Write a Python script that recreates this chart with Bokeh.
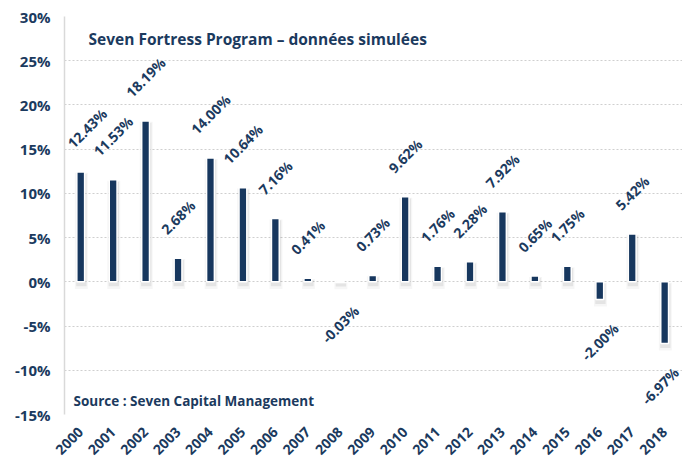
import math
from bokeh.plotting import figure
from bokeh.models import Range1d, FixedTicker, PrintfTickFormatter, Label, BoxAnnotation, ColumnDataSource
from bokeh.core.properties import value
from bokeh.embed import file_html
from bokeh.resources import INLINE

# ---------------- data ----------------
years = ["2000", "2001", "2002", "2003", "2004", "2005", "2006", "2007", "2008", "2009",
         "2010", "2011", "2012", "2013", "2014", "2015", "2016", "2017", "2018"]
returns = [12.43, 11.53, 18.19, 2.68, 14.00, 10.64, 7.16, 0.41, -0.03, 0.73,
           9.62, 1.76, 2.28, 7.92, 0.65, 1.75, -2.00, 5.42, -6.97]
y_ticks = [-15, -10, -5, 0, 5, 10, 15, 20, 25, 30]
title_text = "Seven Fortress Program \u2013 données simulées"
source_text = "Source : Seven Capital Management"

# ---------------- styling / layout ----------------
NAVY = "#17375E"
TEXT = "#1B3A5E"
FONT = "Open Sans"
W, H = 682, 462
LEFT = 64
X_START, X_END = -0.5, 18.55
FRAME_W = W - LEFT
PPU = FRAME_W / (X_END - X_START)   # pixels per category

xs = list(range(len(years)))
labels = [f"{v:.2f}%" for v in returns]

def text_len(s, size=14):
    w = 0.0
    for ch in s:
        if ch.isdigit():
            w += 0.572
        elif ch == ".":
            w += 0.28
        elif ch == "%":
            w += 0.87
        elif ch == "-":
            w += 0.32
        else:
            w += 0.55
    return w * size

yoffs, xoffs = [], []
for x, s, v in zip(xs, labels, returns):
    bbox = (text_len(s) + 13) / math.sqrt(2)
    d = 22 + bbox / 2
    yoffs.append(-d if v >= 0 else d)
    center_px = (x - X_START) * PPU
    right_over = center_px + bbox / 2 - FRAME_W + 2
    left_over = bbox / 2 - center_px + 1
    xoffs.append(-max(0.0, right_over) + max(0.0, left_over))

hi = [max(v, 0) for v in returns]
lo = [min(v, 0) for v in returns]
src = ColumnDataSource(dict(
    x=xs, top=hi, bottom=lo, lab=labels, val=returns, yoff=yoffs, xoff=xoffs,
    sx=[x + 0.02 for x in xs],
    s1t=[h - 0.2 for h in hi], s1b=[l - 0.5 for l in lo],
    s2t=[h - 0.1 for h in hi], s2b=[l - 0.8 for l in lo],
))

p = figure(width=W, height=H, output_backend="svg", toolbar_location=None,
           x_range=Range1d(X_START, X_END), y_range=Range1d(-15, 30),
           min_border_left=LEFT, min_border_right=0, min_border_top=16, min_border_bottom=40)
p.outline_line_color = None
p.background_fill_color = "white"

# shadows
p.vbar(x="sx", top="s2t", bottom="s2b", width=0.40, source=src,
       fill_color="black", fill_alpha=0.035, line_color=None)
p.vbar(x="sx", top="s1t", bottom="s1b", width=0.32, source=src,
       fill_color="black", fill_alpha=0.07, line_color=None)
# bars
p.vbar(x="x", top="top", bottom="bottom", width=0.24, source=src,
       fill_color=NAVY, line_color="white", line_width=1.5)

# data labels
p.text(x="x", y="val", text="lab", source=src, y_offset="yoff", x_offset="xoff",
       angle=math.pi / 4, text_align="center", text_baseline="middle",
       text_font=value(FONT), text_font_style="bold", text_font_size="14px",
       text_color=TEXT)

# title box covering the top gridline
p.add_layout(BoxAnnotation(left=X_START + 6 / PPU, right=X_START + 418 / PPU,
                           bottom=25.9, top=31,
                           fill_color="white", fill_alpha=1.0, line_color=None))
p.add_layout(Label(x=X_START + 24 / PPU, y=27.4, text=title_text, text_font=FONT,
                   text_font_style="bold", text_font_size="15.5px", text_color=TEXT,
                   text_baseline="alphabetic"))
p.add_layout(Label(x=X_START + 9 / PPU, y=-13.5, text=source_text, text_font=FONT,
                   text_font_style="bold", text_font_size="13.5px", text_color=TEXT,
                   text_baseline="alphabetic"))

# axes
p.yaxis.ticker = FixedTicker(ticks=y_ticks)
p.yaxis.formatter = PrintfTickFormatter(format="%d%%")
p.yaxis.axis_line_color = "#D9D9D9"
p.yaxis.axis_line_width = 1.5
p.yaxis.major_tick_line_color = None
p.yaxis.minor_tick_line_color = None
p.yaxis.major_tick_out = 0
p.yaxis.major_label_standoff = 14
p.yaxis.major_label_text_font = FONT
p.yaxis.major_label_text_font_style = "bold"
p.yaxis.major_label_text_font_size = "15px"
p.yaxis.major_label_text_color = TEXT

p.xaxis.ticker = FixedTicker(ticks=xs)
p.xaxis.major_label_overrides = {i: y for i, y in zip(xs, years)}
p.xaxis.axis_line_color = None
p.xaxis.major_tick_line_color = None
p.xaxis.minor_tick_line_color = None
p.xaxis.major_tick_out = 0
p.xaxis.major_label_orientation = math.pi / 4
p.xaxis.major_label_standoff = 15
p.xaxis.major_label_text_font = FONT
p.xaxis.major_label_text_font_style = "bold"
p.xaxis.major_label_text_font_size = "14px"
p.xaxis.major_label_text_color = TEXT

p.xgrid.grid_line_color = None
p.ygrid.ticker = FixedTicker(ticks=y_ticks)
p.ygrid.grid_line_color = "#CFCFCF"
p.ygrid.grid_line_dash = "2 2"
p.ygrid.grid_line_width = 1

open("out.html", "w").write(file_html(p, INLINE))
